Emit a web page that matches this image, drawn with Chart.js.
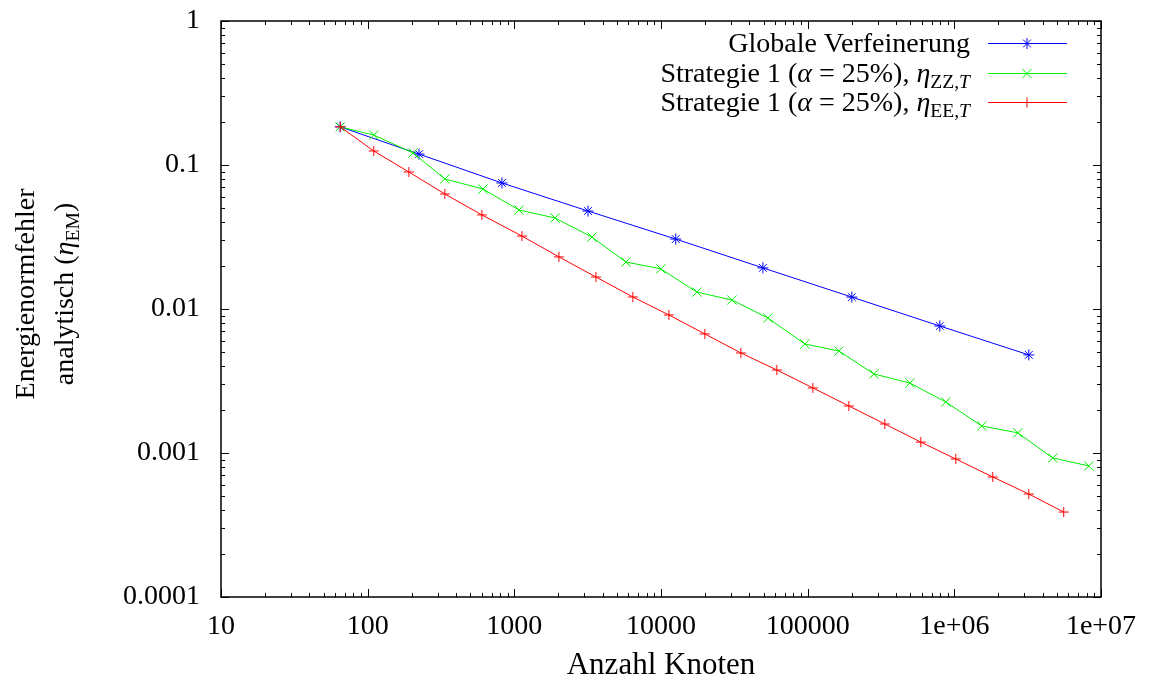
<!DOCTYPE html>
<html>
<head>
<meta charset="utf-8">
<script src="https://cdn.jsdelivr.net/npm/chart.js@4/dist/chart.umd.min.js"></script>
<style>
  html, body { margin: 0; padding: 0; background: #fff; }
  #wrap { position: relative; width: 1152px; height: 684px; }
</style>
</head>
<body>
<div id="wrap"><canvas id="errChart"></canvas></div>
<script>
// --- data ---
const globalNodes = [65, 224, 823, 3180, 12600, 49500, 200000, 796000, 3220000];
const globalErr   = [0.184, 0.119, 0.075, 0.0479, 0.0306, 0.0193, 0.0121, 0.00762, 0.0048];

const zzNodes = [65, 110, 204, 336, 611, 1075, 1892, 3381, 5768, 9980, 17570, 30420, 53550,
                 95700, 163300, 282600, 497700, 875000, 1539000, 2710000, 4690000, 8260000];
const zzErr   = [0.184, 0.1615, 0.1212, 0.08, 0.0681, 0.0487, 0.0429, 0.0316, 0.0212, 0.019, 0.0131,
                 0.01155, 0.00866, 0.00571, 0.00511, 0.00354, 0.00306, 0.00226, 0.00154, 0.00138,
                 0.000923, 0.000813];

const eeNodes = [65, 110, 191, 336, 601, 1127, 2014, 3600, 6430, 11320, 19910, 35060, 61660,
                 108500, 191000, 335900, 591000, 1023000, 1829000, 3220000, 5570000];
const eeErr   = [0.184, 0.1251, 0.0894, 0.0629, 0.045, 0.0321, 0.023, 0.01668, 0.01212, 0.00909,
                 0.00671, 0.00495, 0.00377, 0.00283, 0.00212, 0.00159, 0.00119, 0.000909, 0.000681,
                 0.000519, 0.000389];

const xTickValues = [10, 100, 1000, 1e4, 1e5, 1e6, 1e7];
const xTickLabels = ['10', '100', '1000', '10000', '100000', '1e+06', '1e+07'];
const yTickValues = [1e-4, 1e-3, 1e-2, 1e-1, 1];
const yTickLabels = ['0.0001', '0.001', '0.01', '0.1', '1'];

const FONT = "'Liberation Serif', serif";

const toPoints = (xs, ys) => xs.map((x, i) => ({ x: x, y: ys[i] }));

function labelFor(values, labels, v) {
    const i = values.findIndex(t => Math.abs(Math.log10(t) - Math.log10(v)) < 1e-6);
    return i >= 0 ? labels[i] : '';
}

// text with italic / subscript pieces, drawn left to right
function richWidth(ctx, parts, size) {
    let w = 0;
    parts.forEach(p => {
        const s = p.sub ? size * 0.7 : size;
        ctx.font = (p.italic ? 'italic ' : '') + s + 'px ' + FONT;
        w += ctx.measureText(p.text).width;
    });
    return w;
}
function drawRich(ctx, parts, x, y, size) {
    ctx.textBaseline = 'alphabetic';
    ctx.textAlign = 'left';
    parts.forEach(p => {
        const s = p.sub ? size * 0.7 : size;
        ctx.font = (p.italic ? 'italic ' : '') + s + 'px ' + FONT;
        ctx.fillText(p.text, x, p.sub ? y + size * 0.22 : y);
        x += ctx.measureText(p.text).width;
    });
}

const legendRows = [
    { color: '#0000ff', style: 'star', radius: 5.5,
      parts: [{ text: 'Globale Verfeinerung' }] },
    { color: '#00ee00', style: 'crossRot', radius: 6.5,
      parts: [{ text: 'Strategie 1 (' }, { text: 'α', italic: true }, { text: ' = 25%), ' },
              { text: 'η', italic: true }, { text: 'ZZ,', sub: true }, { text: 'T', sub: true, italic: true }] },
    { color: '#ff0000', style: 'cross', radius: 5,
      parts: [{ text: 'Strategie 1 (' }, { text: 'α', italic: true }, { text: ' = 25%), ' },
              { text: 'η', italic: true }, { text: 'EE,', sub: true }, { text: 'T', sub: true, italic: true }] }
];

// frame with inward ticks on all four sides, legend and y title
const decorPlugin = {
    id: 'decor',
    afterDraw(chart) {
        const ctx = chart.ctx;
        const area = chart.chartArea;
        const xs = chart.scales.x, ys = chart.scales.y;
        ctx.save();
        ctx.strokeStyle = '#000';
        ctx.lineWidth = 1.5;
        ctx.strokeRect(area.left, area.top, area.right - area.left, area.bottom - area.top);

        ctx.lineWidth = 1;
        ctx.beginPath();
        for (let d = 10; d <= 1e7; d *= 10) {
            for (let m = 1; m <= 9; m++) {
                const v = d * m;
                if (v > 1e7) break;
                const px = Math.round(xs.getPixelForValue(v)) + 0.5;
                const len = m === 1 ? 8 : 4;
                ctx.moveTo(px, area.bottom); ctx.lineTo(px, area.bottom - len);
                ctx.moveTo(px, area.top); ctx.lineTo(px, area.top + len);
            }
        }
        for (let d = 1e-4; d <= 1.0001; d *= 10) {
            for (let m = 1; m <= 9; m++) {
                const v = d * m;
                if (v > 1.0001) break;
                const py = Math.round(ys.getPixelForValue(v)) + 0.5;
                const len = m === 1 ? 8 : 4;
                ctx.moveTo(area.left, py); ctx.lineTo(area.left + len, py);
                ctx.moveTo(area.right, py); ctx.lineTo(area.right - len, py);
            }
        }
        ctx.stroke();

        // legend
        const size = 28;
        const rowY = [43, 73, 102];
        ctx.fillStyle = '#000';
        legendRows.forEach((row, i) => {
            const w = richWidth(ctx, row.parts, size);
            drawRich(ctx, row.parts, 970 - w, rowY[i] + 9, size);
            ctx.strokeStyle = row.color;
            ctx.lineWidth = 1;
            ctx.beginPath();
            ctx.moveTo(988, rowY[i] + 0.5); ctx.lineTo(1067, rowY[i] + 0.5);
            ctx.stroke();
            Chart.helpers.drawPoint(ctx, { pointStyle: row.style, radius: row.radius, rotation: 0, borderWidth: 1 }, 1027, rowY[i] + 0.5);
        });

        // y axis title (two lines, rotated)
        ctx.fillStyle = '#000';
        const tSize = 28;
        const cy = 294;
        [[{ text: 'Energienormfehler' }],
         [{ text: 'analytisch (' }, { text: 'η', italic: true }, { text: 'EM', sub: true }, { text: ')' }]]
        .forEach((parts, i) => {
            const cx = i === 0 ? 25 : 64;
            const w = richWidth(ctx, parts, tSize);
            ctx.save();
            ctx.translate(cx + 9, cy);
            ctx.rotate(-Math.PI / 2);
            drawRich(ctx, parts, -w / 2, 0, tSize);
            ctx.restore();
        });
        ctx.restore();
    }
};

new Chart(document.getElementById('errChart'), {
    type: 'line',
    data: {
        datasets: [
            { label: 'Globale Verfeinerung', data: toPoints(globalNodes, globalErr),
              borderColor: '#0000ff', backgroundColor: '#0000ff', pointStyle: 'star', pointRadius: 5.5, order: 2 },
            { label: 'Strategie 1 (α = 25%), ηZZ,T', data: toPoints(zzNodes, zzErr),
              borderColor: '#00ee00', backgroundColor: '#00ee00', pointStyle: 'crossRot', pointRadius: 6.5, order: 1 },
            { label: 'Strategie 1 (α = 25%), ηEE,T', data: toPoints(eeNodes, eeErr),
              borderColor: '#ff0000', backgroundColor: '#ff0000', pointStyle: 'cross', pointRadius: 5, order: 0 }
        ].map(ds => Object.assign(ds, { borderWidth: 1, pointBorderWidth: 1, fill: false, tension: 0 }))
    },
    options: {
        responsive: true,
        maintainAspectRatio: false,
        animation: false,
        events: [],
        layout: { padding: { left: 0, top: 21, right: 51, bottom: 0 } },
        plugins: { legend: { display: false }, tooltip: { enabled: false } },
        scales: {
            x: {
                type: 'logarithmic', min: 10, max: 1e7,
                grid: { display: false, drawTicks: false },
                border: { display: false },
                afterBuildTicks: s => { s.ticks = xTickValues.map(v => ({ value: v })); },
                afterFit: s => { s.height = 87; s.paddingLeft = 0; s.paddingRight = 0; },
                ticks: {
                    autoSkip: false, maxRotation: 0, minRotation: 0, padding: 13,
                    color: '#000', font: { family: FONT, size: 28 },
                    callback: v => labelFor(xTickValues, xTickLabels, v)
                },
                title: {
                    display: true, text: 'Anzahl Knoten', color: '#000',
                    font: { family: FONT, size: 31 }, padding: { top: 0, bottom: 0 }
                }
            },
            y: {
                type: 'logarithmic', min: 1e-4, max: 1,
                grid: { display: false, drawTicks: false },
                border: { display: false },
                afterBuildTicks: s => { s.ticks = yTickValues.map(v => ({ value: v })); },
                afterFit: s => { s.width = 221; s.paddingTop = 0; s.paddingBottom = 0; },
                ticks: {
                    autoSkip: false, padding: 21,
                    color: '#000', font: { family: FONT, size: 28 },
                    callback: v => labelFor(yTickValues, yTickLabels, v)
                }
            }
        }
    },
    plugins: [decorPlugin]
});
</script>
</body>
</html>
